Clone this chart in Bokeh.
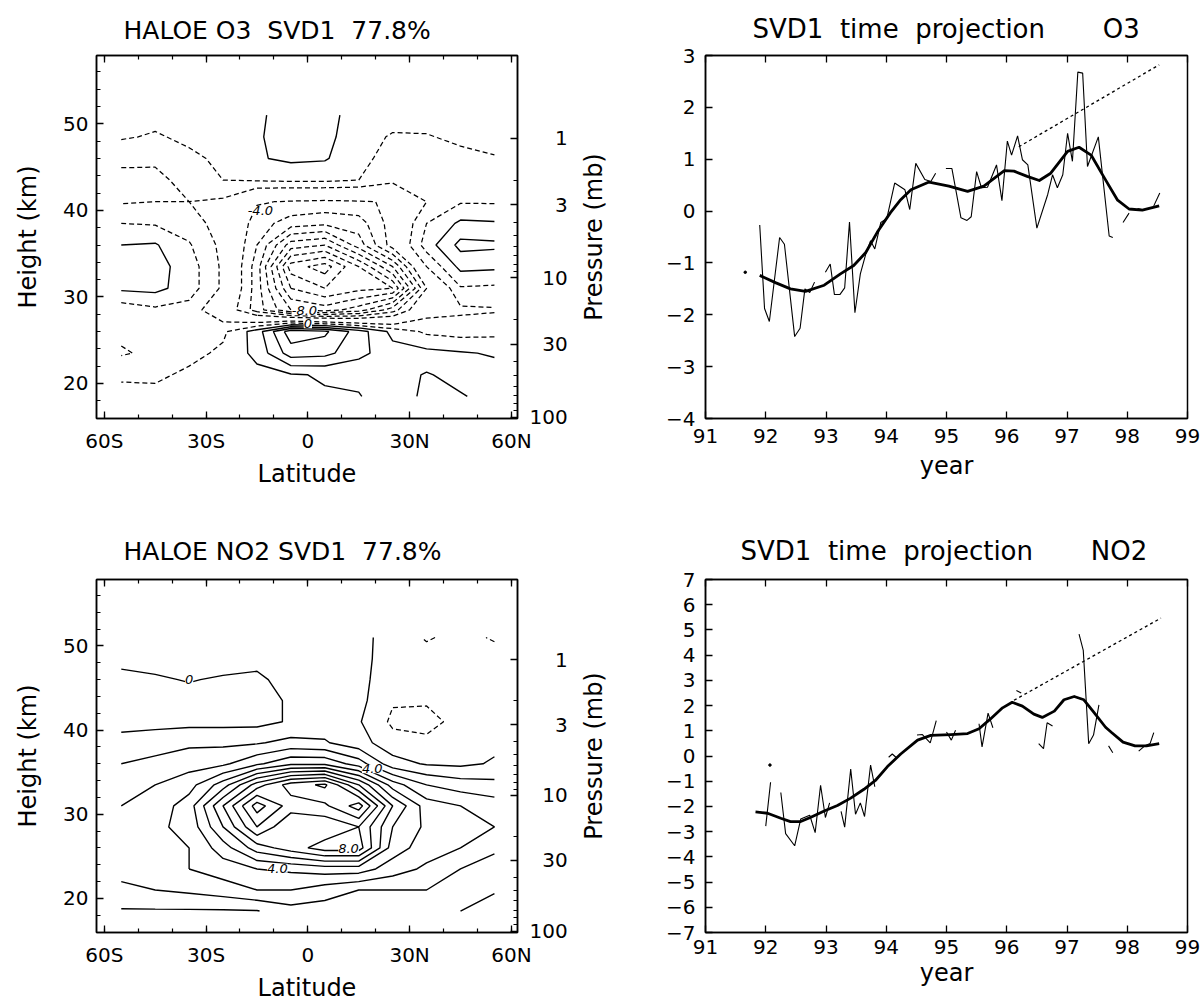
import math
import numpy as np
from bokeh.plotting import figure
from bokeh.plotting.contour import contour_data
from bokeh.layouts import column, row
from bokeh.models import Range1d, LinearAxis, FixedTicker, Label, ColumnDataSource
from bokeh.embed import file_html
from bokeh.resources import INLINE

NAN = float("nan")
FONT = "DejaVu Sans"
NB = "\u00a0"
FIG = "\u2007"

# ---------------- data: latitude-height fields ----------------
lat_grid = [-55, -45, -35, -25, -15, -5, 5, 15, 25, 35, 45, 55]
height_grid = [18.5, 21, 23.5, 26, 28.5, 31, 33.5, 36, 38.5, 41, 43.5, 46, 48.5, 51]

o3_h185 = [-0.6, -0.7, -0.6, -0.5, -0.4, -0.2, -0.1, -0.05, 0.5, 1.2, 1.1, 0.6]
o3_h210 = [-1.2, -1.2, -0.8, -0.6, -0.3, -0.1, 0.1, 0.2, 0.5, 1.1, 0.6, 0.4]
o3_h235 = [-2.1, -1.8, -1.3, -0.8, 0.3, 2.5, 2.3, 1.3, 0.4, 0.3, 0.1, -0.1]
o3_h260 = [-1.8, -1.9, -1.6, -1.2, 0.5, 3.6, 3.2, 1.5, -0.3, -1.2, -1.4, -1.3]
o3_h285 = [-1.6, -1.2, -1.4, -3.0, -5.5, -8.0, -8.5, -7.5, -5.5, -2.5, -2.2, -2.1]
o3_h310 = [0.2, 0.3, -0.5, -2.2, -5.5, -10.0, -11.0, -10.3, -10.0, -4.0, -1.1, -1.2]
o3_h335 = [0.4, 0.4, -0.5, -2.2, -5.5, -11.5, -12.5, -10.0, -7.0, -2.0, 0.3, 0.2]
o3_h360 = [0.0, 0.1, -0.9, -2.3, -5.0, -8.5, -9.0, -6.5, -3.5, -0.5, 1.3, 1.2]
o3_h385 = [-1.0, -1.1, -1.5, -2.5, -4.5, -5.5, -5.8, -5.5, -3.5, -1.0, 0.2, 0.1]
o3_h410 = [-2.1, -2.0, -2.0, -2.2, -3.9, -4.1, -4.2, -4.1, -3.9, -2.0, -1.1, -1.1]
o3_h435 = [-2.4, -2.3, -1.6, -1.0, -0.9, -0.8, -0.8, -1.0, -1.7, -1.8, -1.6, -1.5]
o3_h460 = [-1.7, -1.8, -1.2, -0.8, -0.1, 0.2, 0.1, -0.7, -1.4, -1.5, -1.2, -1.05]
o3_h485 = [-0.9, -1.1, -0.8, -0.6, -0.1, 0.4, 0.3, -0.6, -1.1, -1.05, -0.85, -0.75]
o3_h510 = [-0.6, -0.7, -0.6, -0.5, -0.2, 0.5, 0.4, -0.5, -0.6, -0.7, -0.6, -0.7]

no2_h185 = [0.9, 0.9, 0.9, 0.9, 0.95, 1.6, 1.5, 1.0, 1.5, 1.2, 1.0, 0.5]
no2_h210 = [1.8, 2.0, 2.2, 2.5, 3.0, 3.0, 2.5, 2.0, 2.0, 2.0, 1.5, 1.1]
no2_h235 = [2.3, 2.5, 3.0, 3.5, 4.0, 4.2, 4.5, 4.5, 3.5, 2.8, 2.0, 1.5]
no2_h260 = [3.0, 2.7, 3.0, 4.5, 6.5, 7.5, 8.5, 8.5, 4.5, 3.5, 3.0, 2.2]
no2_h285 = [2.5, 2.8, 3.3, 6.0, 9.0, 7.0, 7.2, 8.0, 5.0, 3.8, 3.5, 3.0]
no2_h310 = [2.0, 2.4, 3.5, 7.0, 10.5, 8.5, 8.8, 10.5, 6.0, 3.5, 3.0, 2.5]
no2_h335 = [1.5, 2.0, 2.6, 4.5, 7.5, 9.5, 10.2, 7.0, 3.5, 2.0, 1.5, 1.3]
no2_h360 = [1.0, 1.3, 1.6, 1.8, 2.8, 3.8, 3.8, 2.5, 0.4, -0.1, -0.2, 0.1]
no2_h385 = [0.3, 0.5, 0.8, 0.8, 0.9, 1.3, 1.1, 0.4, -0.6, -0.8, -0.4, -0.2]
no2_h410 = [-0.3, -0.3, -0.3, -0.3, -0.3, 0.1, 0.5, 0.1, -1.2, -1.3, -0.7, -0.4]
no2_h435 = [-0.4, -0.4, -0.3, -0.3, -0.3, 0.1, 0.6, 0.3, -0.9, -0.9, -0.6, -0.4]
no2_h460 = [-0.2, -0.1, 0.05, -0.1, -0.2, 0.4, 0.5, 0.2, -0.4, -0.6, -0.6, -0.5]
no2_h485 = [0.2, 0.3, 0.3, 0.4, 0.3, 0.5, 0.6, 0.2, -0.3, -0.6, -0.7, -0.6]
no2_h510 = [0.3, 0.4, 0.4, 0.3, 0.2, 0.5, 0.6, 0.3, -0.4, -1.1, -0.7, -1.1]

o3_dashed_levels = [-12, -11, -10, -9, -8, -7, -6, -5, -4, -2, -1]
o3_solid_levels = [0, 1, 2, 3]
no2_dashed_levels = [-2, -1]
no2_solid_levels = [0, 1, 2, 3, 4, 5, 6, 7, 8, 9, 10, 11]

o3_label_text = ["-4.0", "-8.0", "0"]
o3_label_lat = [-14, -1, 0]
o3_label_hgt = [40.0, 28.4, 26.9]
no2_label_text = ["0", "4.0", "8.0", "4.0"]
no2_label_lat = [-35, 19, 12, -9]
no2_label_hgt = [46.0, 35.4, 25.9, 23.6]

lat_ticks = [-60, -30, 0, 30, 60]
lat_tick_labels = ["60S", "30S", "0", "30N", "60N"]
height_ticks = [20, 30, 40, 50]
pressure_ticks = [1, 3, 10, 30, 100]
pressure_tick_labels = [FIG + FIG + "1", FIG + FIG + "3", FIG + "10", FIG + "30", "100"]
pressure_minor = [2, 4, 5, 6, 7, 8, 9, 20, 40, 50, 60, 70, 80, 90]

# ---------------- data: time projections ----------------
o3_year = [91.90, 91.98, 92.06, 92.23, 92.31, 92.48, 92.57, 92.65, 92.73, 92.81, NAN,
           92.99, 93.07, 93.14, 93.23, 93.31, 93.39, 93.48, 93.57, 93.66, 93.74, 93.81,
           93.91, 94.01, 94.14, 94.31, 94.39, 94.49, 94.64, 94.74, 94.82, NAN,
           94.99, 95.09, 95.24, 95.34, 95.41, 95.50, 95.58, 95.68, 95.83, 95.92, 96.01,
           96.08, 96.18, 96.26, 96.35, 96.50, 96.68, 96.76, 96.84, 96.93, 97.01, 97.09,
           97.18, 97.26, 97.34, 97.52, 97.70, 97.76, NAN,
           97.93, 98.03, NAN, 98.17, 98.25, NAN, 98.44, 98.54]
o3_proj = [-0.27, -1.88, -2.13, -0.51, -0.64, -2.42, -2.26, -1.50, -1.57, -1.37, NAN,
           -1.18, -1.02, -1.61, -1.61, -1.48, -0.21, -1.96, -1.21, -0.83, -0.57, -0.73,
           -0.22, -0.14, 0.54, 0.41, 0.03, 0.92, 0.61, 0.57, 0.73, NAN,
           0.82, 0.82, -0.13, -0.18, -0.11, 0.76, 0.45, 0.46, 0.89, 0.20, 1.35,
           1.08, 1.45, 0.99, 0.89, -0.33, 0.32, 0.70, 0.45, 0.70, 1.50, 0.96,
           2.68, 2.66, 0.86, 1.43, -0.48, -0.51, NAN,
           -0.22, -0.04, NAN, 0.05, 0.03, NAN, 0.10, 0.35]
o3_dot_year = [91.66]
o3_dot_proj = [-1.18]
o3_smooth_year = [91.90, 92.16, 92.41, 92.66, 92.97, 93.24, 93.46, 93.66, 93.85, 94.07,
                  94.24, 94.41, 94.71, 95.04, 95.35, 95.62, 95.96, 96.12, 96.34, 96.54,
                  96.73, 97.01, 97.20, 97.40, 97.62, 97.84, 98.03, 98.25, 98.53]
o3_smooth = [-1.24, -1.38, -1.50, -1.55, -1.43, -1.21, -1.05, -0.80, -0.41, -0.03,
             0.22, 0.41, 0.56, 0.48, 0.38, 0.48, 0.78, 0.77, 0.67, 0.59,
             0.73, 1.15, 1.23, 1.08, 0.64, 0.21, 0.04, 0.02, 0.10]
o3_trend_year = [96.20, 98.53]
o3_trend = [1.24, 2.82]

no2_year = [92.00, 92.08, NAN,
            92.25, 92.33, 92.48, 92.58, 92.73, 92.82, 92.91, 92.99, 93.06, NAN,
            93.25, 93.31, 93.41, 93.49, 93.57, 93.64, 93.74, 93.81, NAN,
            94.04, 94.10, 94.17, NAN, 94.51, 94.60, 94.73, 94.83, NAN,
            95.00, 95.08, 95.15, NAN, 95.54, 95.59, 95.69, 95.77, NAN,
            96.16, 96.24, NAN, 96.53, 96.61, 96.67, 96.76, NAN,
            97.20, 97.27, 97.36, 97.44, 97.53, NAN, 97.69, 97.76, NAN,
            98.19, 98.30, 98.38, 98.44]
no2_proj = [-2.78, -1.04, NAN,
            -1.45, -3.08, -3.56, -2.50, -2.35, -3.04, -1.16, -2.44, -1.86, NAN,
            -2.20, -2.82, -0.52, -2.31, -1.86, -2.40, -0.36, -1.22, NAN,
            -0.05, 0.08, -0.07, NAN, 0.83, 0.85, 0.52, 1.40, NAN,
            0.95, 0.63, 1.02, NAN, 1.28, 0.36, 1.70, 1.12, NAN,
            2.60, 2.50, NAN, 0.49, 0.29, 1.32, 1.19, NAN,
            4.83, 4.19, 0.49, 0.83, 2.03, NAN, 0.40, 0.13, NAN,
            0.19, 0.42, 0.50, 0.93]
no2_dot_year = [92.07]
no2_dot_proj = [-0.36]
no2_smooth_year = [91.83, 92.03, 92.25, 92.41, 92.58, 92.74, 92.97, 93.19, 93.41, 93.63,
                   93.82, 94.02, 94.24, 94.52, 94.74, 95.07, 95.35, 95.54, 95.73, 95.93,
                   96.09, 96.26, 96.45, 96.59, 96.79, 96.95, 97.12, 97.28, 97.45, 97.64,
                   97.74, 97.93, 98.13, 98.32, 98.53]
no2_smooth = [-2.22, -2.27, -2.47, -2.60, -2.60, -2.44, -2.18, -1.96, -1.67, -1.32,
              -0.97, -0.42, 0.08, 0.63, 0.82, 0.85, 0.89, 1.08, 1.47, 1.91,
              2.13, 1.98, 1.66, 1.53, 1.78, 2.23, 2.36, 2.23, 1.72, 1.14,
              0.93, 0.55, 0.40, 0.40, 0.49]
no2_trend_year = [96.12, 98.56]
no2_trend = [2.21, 5.47]

year_ticks = [91, 92, 93, 94, 95, 96, 97, 98, 99]
o3_proj_ticks = [-4, -3, -2, -1, 0, 1, 2, 3]
no2_proj_ticks = [-7, -6, -5, -4, -3, -2, -1, 0, 1, 2, 3, 4, 5, 6, 7]

LAT_START, LAT_END = -62.3, 61.8
HGT_START, HGT_END = 15.95, 57.9


# ---------------- helpers ----------------
def style_axis(ax, label_size="20px", show_labels=True, standoff=8):
    ax.axis_line_color = "black"
    ax.axis_line_width = 1.5
    ax.major_tick_in = 7
    ax.major_tick_out = 0
    ax.minor_tick_in = 4
    ax.minor_tick_out = 0
    ax.major_tick_line_color = "black"
    ax.major_tick_line_width = 1.3
    ax.minor_tick_line_color = "black"
    ax.minor_tick_line_width = 1.2
    ax.major_label_text_font = FONT
    ax.axis_label_text_font = FONT
    ax.axis_label_text_font_style = "normal"
    ax.axis_label_text_font_size = "24px"
    ax.axis_label_text_color = "black"
    if show_labels:
        ax.major_label_text_color = "black"
        ax.major_label_text_font_size = label_size
        ax.major_label_standoff = standoff
    else:
        ax.major_label_text_color = None
        ax.major_label_text_font_size = "0px"
        ax.major_label_standoff = 0


def base_figure(width, height, xr, yr, borders, title, title_offset, title_standoff,
                title_size):
    left, right, top, bottom = borders
    p = figure(width=width, height=height, x_range=xr, y_range=yr,
               output_backend="svg", toolbar_location=None,
               min_border_left=left, min_border_right=right,
               min_border_top=top, min_border_bottom=bottom, title=title)
    p.title.text_font = FONT
    p.title.text_font_size = title_size
    p.title.text_font_style = "normal"
    p.title.text_color = "black"
    p.title.align = "left"
    p.title.offset = title_offset
    p.title.standoff = title_standoff
    p.grid.visible = False
    p.outline_line_color = "black"
    p.outline_line_width = 1.5
    p.background_fill_color = "white"
    p.border_fill_color = "white"
    return p


def press_to_height(p_mb):
    return round(7.0 * math.log(1000.0 / p_mb), 3)


def contour_panel(title, field, dashed_levels, solid_levels, lab_text, lab_lat, lab_hgt,
                  height, borders, ylabel, title_standoff):
    p = base_figure(577, height, Range1d(LAT_START, LAT_END), Range1d(HGT_START, HGT_END),
                    borders, title, 27, title_standoff, "25px")
    lat_ticker = FixedTicker(ticks=lat_ticks, minor_ticks=list(range(-60, 61, 10)))
    hgt_ticker = FixedTicker(ticks=height_ticks, minor_ticks=list(range(16, 58, 2)))

    style_axis(p.xaxis[0], standoff=10)
    p.xaxis[0].ticker = lat_ticker
    p.xaxis[0].major_label_overrides = dict(zip(lat_ticks, lat_tick_labels))
    p.xaxis[0].axis_label = "Latitude"
    p.xaxis[0].axis_label_standoff = 4

    style_axis(p.yaxis[0], standoff=8)
    p.yaxis[0].ticker = hgt_ticker
    p.yaxis[0].axis_label = ylabel
    p.yaxis[0].axis_label_standoff = 18

    top_ax = LinearAxis(ticker=lat_ticker)
    style_axis(top_ax, show_labels=False)
    p.add_layout(top_ax, "above")

    pt = [press_to_height(v) for v in pressure_ticks]
    pm = [press_to_height(v) for v in pressure_minor]
    right_ax = LinearAxis(ticker=FixedTicker(ticks=pt, minor_ticks=pm))
    style_axis(right_ax, standoff=12)
    right_ax.major_label_overrides = dict(zip(pt, pressure_tick_labels))
    p.add_layout(right_ax, "right")

    z = np.array(field, dtype=float)
    neg = contour_data(x=lat_grid, y=height_grid, z=z, levels=dashed_levels,
                       want_fill=False, want_line=True)
    pos = contour_data(x=lat_grid, y=height_grid, z=z, levels=solid_levels,
                       want_fill=False, want_line=True)
    p.multi_line(xs=[np.asarray(a) for a in neg.line_data.xs],
                 ys=[np.asarray(a) for a in neg.line_data.ys],
                 line_color="black", line_width=1.25, line_dash="5 3")
    p.multi_line(xs=[np.asarray(a) for a in pos.line_data.xs],
                 ys=[np.asarray(a) for a in pos.line_data.ys],
                 line_color="black", line_width=1.4)

    for t, la, h in zip(lab_text, lab_lat, lab_hgt):
        p.add_layout(Label(x=la, y=h, text=t, text_font=FONT, text_font_size="13px",
                           text_font_style="italic", text_color="black",
                           text_align="center", text_baseline="middle",
                           background_fill_color="white"))
    return p


def pressure_title_strip(height, top, bottom):
    # narrow strip holding the right-hand "Pressure (mb)" title (reads bottom to top)
    s = figure(width=30, height=height, x_range=Range1d(0, 1),
               y_range=Range1d(HGT_START, HGT_END), output_backend="svg",
               toolbar_location=None, min_border_left=27, min_border_right=0,
               min_border_top=top, min_border_bottom=bottom)
    s.xaxis.visible = False
    s.grid.visible = False
    s.outline_line_color = None
    s.background_fill_color = "white"
    s.border_fill_color = "white"
    ax = s.yaxis[0]
    ax.axis_line_color = None
    ax.major_tick_line_color = None
    ax.minor_tick_line_color = None
    ax.major_tick_in = 0
    ax.major_tick_out = 0
    ax.minor_tick_in = 0
    ax.minor_tick_out = 0
    ax.major_label_text_color = None
    ax.major_label_text_font_size = "0px"
    ax.major_label_standoff = 0
    ax.axis_label = "Pressure (mb)"
    ax.axis_label_standoff = 0
    ax.axis_label_text_font = FONT
    ax.axis_label_text_font_style = "normal"
    ax.axis_label_text_font_size = "24px"
    ax.axis_label_text_color = "black"
    return s


def series_panel(title, title_offset, title_standoff, height, borders, yr, yticks,
                 yrs, vals, dy, dv, sy, sv, ty, tv, bottom_std, label_std):
    p = base_figure(594, height, Range1d(91, 99), yr, borders, title, title_offset,
                    title_standoff, "26px")
    xt = FixedTicker(ticks=year_ticks, minor_ticks=[])
    yt = FixedTicker(ticks=yticks, minor_ticks=[])
    style_axis(p.xaxis[0], standoff=bottom_std)
    p.xaxis[0].ticker = xt
    p.xaxis[0].axis_label = "year"
    p.xaxis[0].axis_label_standoff = label_std
    style_axis(p.yaxis[0], standoff=10)
    p.yaxis[0].ticker = yt
    top_ax = LinearAxis(ticker=xt)
    style_axis(top_ax, show_labels=False)
    p.add_layout(top_ax, "above")

    src = ColumnDataSource(data=dict(x=np.array(yrs, dtype=float), y=np.array(vals, dtype=float)))
    p.line("x", "y", source=src, line_color="black", line_width=1.1)
    p.scatter(dy, dv, size=2.5, color="black")
    p.line(sy, sv, line_color="black", line_width=2.8, line_join="round")
    p.line(ty, tv, line_color="black", line_width=1.3, line_dash="3 3")
    return p


# ---------------- panels ----------------
o3_field = [o3_h185, o3_h210, o3_h235, o3_h260, o3_h285, o3_h310, o3_h335,
            o3_h360, o3_h385, o3_h410, o3_h435, o3_h460, o3_h485, o3_h510]
no2_field = [no2_h185, no2_h210, no2_h235, no2_h260, no2_h285, no2_h310, no2_h335,
             no2_h360, no2_h385, no2_h410, no2_h435, no2_h460, no2_h485, no2_h510]

t1 = "HALOE O3" + NB + " SVD1" + NB + " 77.8%"
t3 = "HALOE NO2 SVD1" + NB + " 77.8%"
t2 = "SVD1" + NB + " time" + NB + " projection" + NB * 6 + " O3"
t4 = "SVD1" + NB + " time" + NB + " projection" + NB * 6 + " NO2"

p1 = contour_panel(t1, o3_field, o3_dashed_levels, o3_solid_levels,
                   o3_label_text, o3_label_lat, o3_label_hgt,
                   500, (96, 60, 54, 82), "Height (km)", 21)
s1 = pressure_title_strip(500, 54, 82)
p3 = contour_panel(t3, no2_field, no2_dashed_levels, no2_solid_levels,
                   no2_label_text, no2_label_lat, no2_label_hgt,
                   504, (96, 60, 75, 65), "Height (km)", 27)
s3 = pressure_title_strip(504, 75, 65)

p2 = series_panel(t2, 47, 23, 500, (98, 14, 55, 79),
                  Range1d(-4, 3), o3_proj_ticks,
                  o3_year, o3_proj, o3_dot_year, o3_dot_proj,
                  o3_smooth_year, o3_smooth, o3_trend_year, o3_trend, 10, 6)
p4 = series_panel(t4, 35, 28, 504, (98, 14, 79, 60),
                  Range1d(-7, 7), no2_proj_ticks,
                  no2_year, no2_proj, no2_dot_year, no2_dot_proj,
                  no2_smooth_year, no2_smooth, no2_trend_year, no2_trend, 7, 2)

layout = column(row(p1, s1, p2), row(p3, s3, p4))
open("out.html", "w").write(file_html(layout, INLINE))
